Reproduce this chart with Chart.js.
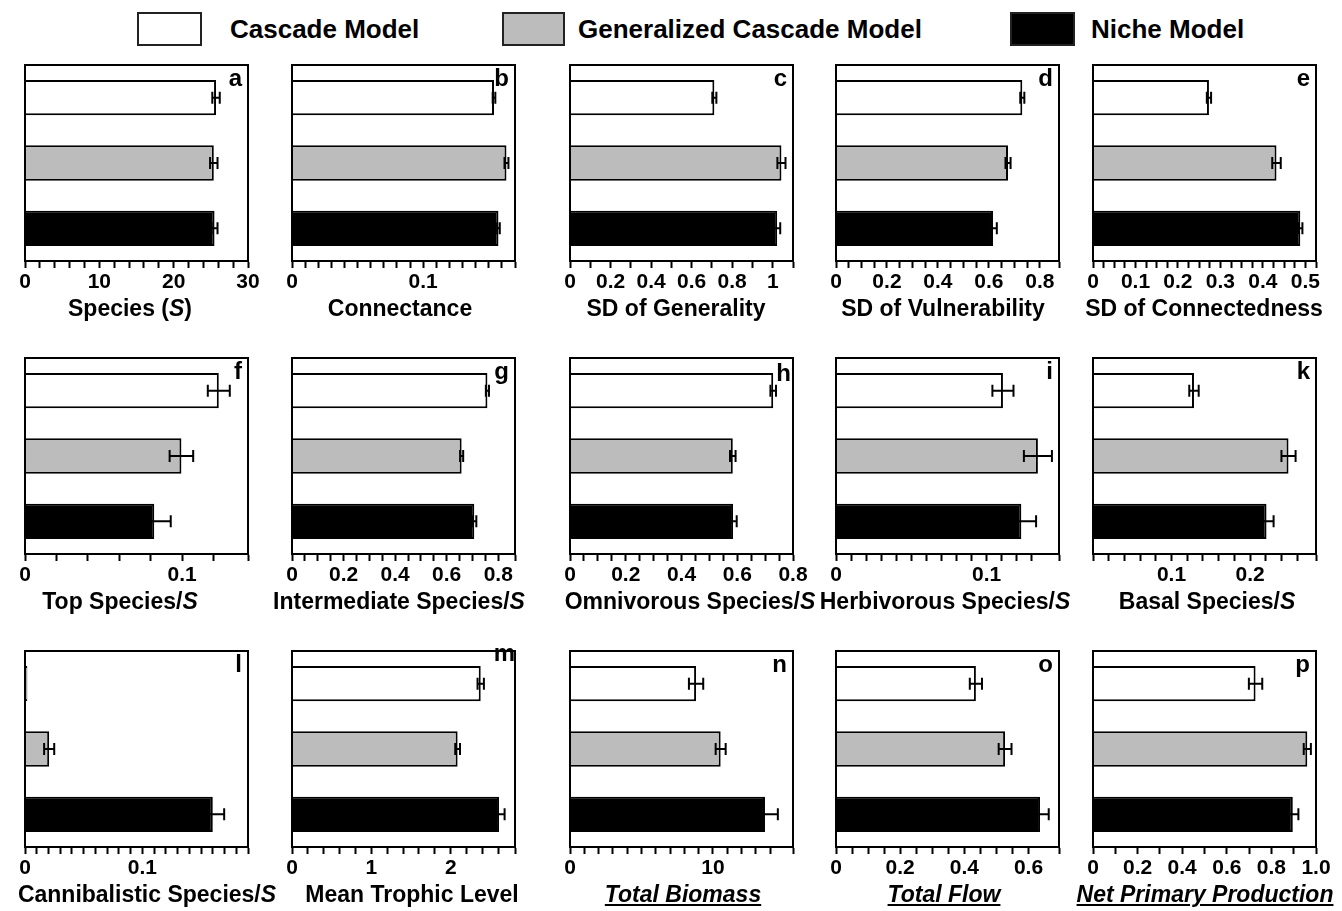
<!DOCTYPE html>
<html>
<head>
<meta charset="utf-8">
<script src="https://cdn.jsdelivr.net/npm/chart.js@4.4.1/dist/chart.umd.min.js"></script>
<style>
  body { margin: 0; background: #fff; }
  #fig { position: relative; width: 1342px; height: 911px; overflow: hidden;
         font-family: "Liberation Sans", Arial, sans-serif; font-weight: bold; color: #000; }
  #fig canvas { position: absolute; }
  .txt { position: absolute; white-space: nowrap; }
  .sw { position: absolute; box-sizing: border-box; border: 2px solid #222; top: 12px; height: 34px; }
  .leg { position: absolute; top: 12px; height: 34px; line-height: 34px; font-size: 26px; white-space: nowrap; }
  .title { font-size: 23px; line-height: 26px; transform: translateX(-50%); }
  .letter { font-size: 24px; line-height: 24px; transform: translateX(-100%); }
</style>
</head>
<body>
<div id="fig">
  <div class="sw" style="left:137px;width:65px;background:#fff"></div>
  <div class="leg" style="left:230px">Cascade Model</div>
  <div class="sw" style="left:502px;width:63px;background:#bcbcbc"></div>
  <div class="leg" style="left:578px">Generalized Cascade Model</div>
  <div class="sw" style="left:1010px;width:65px;background:#000"></div>
  <div class="leg" style="left:1091px">Niche Model</div>
</div>
<script>
// categories (one bar per model)
const models = ["Cascade Model", "Generalized Cascade Model", "Niche Model"];

const panelLetters = ["a", "b", "c", "d", "e", "f", "g", "h", "i", "k", "l", "m", "n", "o", "p"];
const axisTitles = [
  "Species (<i>S</i>)", "Connectance", "SD of Generality", "SD of Vulnerability", "SD of Connectedness",
  "Top Species/<i>S</i>", "Intermediate Species/<i>S</i>", "Omnivorous Species/<i>S</i>", "Herbivorous Species/<i>S</i>", "Basal Species/<i>S</i>",
  "Cannibalistic Species/<i>S</i>", "Mean Trophic Level", "<u><i>Total Biomass</i></u>", "<u><i>Total Flow</i></u>", "<u><i>Net Primary Production</i></u>"
];

// means and error bars, panel order a..p
const cascade        = [25.7, 0.154, 0.712, 0.731, 0.273, 0.1234, 0.758, 0.729, 0.1108, 0.1286, 0.002, 2.378, 8.82, 0.436, 0.729];
const cascadeErr     = [0.5, 0.001, 0.01, 0.008, 0.005, 0.007, 0.006, 0.01, 0.007, 0.006, 0, 0.04, 0.5, 0.019, 0.03];
const generalized    = [25.4, 0.1635, 1.043, 0.675, 0.432, 0.0996, 0.658, 0.584, 0.134, 0.249, 0.0206, 2.087, 10.54, 0.527, 0.961];
const generalizedErr = [0.5, 0.0015, 0.02, 0.01, 0.01, 0.0075, 0.006, 0.01, 0.0093, 0.009, 0.0043, 0.03, 0.35, 0.02, 0.016];
const niche          = [25.5, 0.1574, 1.022, 0.616, 0.488, 0.0823, 0.707, 0.585, 0.123, 0.221, 0.16, 2.609, 13.64, 0.636, 0.896];
const nicheErr       = [0.4, 0.001, 0.015, 0.015, 0.005, 0.0105, 0.008, 0.013, 0.0098, 0.009, 0.0097, 0.07, 0.9, 0.027, 0.025];

// x axes
const axisMax   = [30, 0.17, 1.1, 0.875, 0.525, 0.142, 0.865, 0.8, 0.148, 0.284, 0.19, 2.81, 15.6, 0.695, 1.0];
const minorStep = [2, 0.01, 0.1, 0.05, 0.025, 0.02, 0.05, 0.05, 0.01, 0.02, 0.01, 0.2, 1, 0.05, 0.1];
const tickLabels = [
  ["0", "10", "20", "30"], ["0", "0.1"], ["0", "0.2", "0.4", "0.6", "0.8", "1"], ["0", "0.2", "0.4", "0.6", "0.8"], ["0", "0.1", "0.2", "0.3", "0.4", "0.5"],
  ["0", "0.1"], ["0", "0.2", "0.4", "0.6", "0.8"], ["0", "0.2", "0.4", "0.6", "0.8"], ["0", "0.1"], ["0.1", "0.2"],
  ["0", "0.1"], ["0", "1", "2"], ["0", "10"], ["0", "0.2", "0.4", "0.6"], ["0", "0.2", "0.4", "0.6", "0.8", "1.0"]
];

// layout
const colLeft = [25, 292, 570, 836, 1093];
const rowTop = [65, 358, 651];
const boxW = 223, boxH = 196, PAD = 34;
const titleX = [130, 400, 676, 943, 1204, 120, 399, 690, 945, 1207, 147, 412, 683, 944, 1205];
const letterShift = { m: [6, -11], h: [4, 2] };

const fig = document.getElementById("fig");

const frame = {
  id: "frame",
  afterDraw(chart) {
    const { ctx, chartArea: a } = chart;
    ctx.save();
    ctx.strokeStyle = "#000";
    ctx.lineWidth = 2;
    ctx.strokeRect(a.left, a.top, a.right - a.left, a.bottom - a.top);
    ctx.restore();
  }
};

const errorBars = {
  id: "errorBars",
  afterDatasetsDraw(chart) {
    const ctx = chart.ctx, xs = chart.scales.x;
    chart.data.datasets.forEach((ds, di) => {
      chart.getDatasetMeta(di).data.forEach((bar, j) => {
        const v = ds.data[j], e = ds.errors[j];
        if (!e) return;
        const x1 = xs.getPixelForValue(v - e), x2 = xs.getPixelForValue(v + e), y = bar.y;
        ctx.save();
        ctx.strokeStyle = "#000";
        ctx.lineWidth = 2;
        ctx.beginPath();
        ctx.moveTo(x1, y); ctx.lineTo(x2, y);
        ctx.moveTo(x1, y - 6); ctx.lineTo(x1, y + 6);
        ctx.moveTo(x2, y - 6); ctx.lineTo(x2, y + 6);
        ctx.stroke();
        ctx.restore();
      });
    });
  }
};

function addText(cls, html, left, top) {
  const d = document.createElement("div");
  d.className = "txt " + cls;
  d.innerHTML = html;
  d.style.left = left + "px";
  d.style.top = top + "px";
  fig.appendChild(d);
}

for (let i = 0; i < 15; i++) {
  const row = Math.floor(i / 5), col = i % 5;
  const left = colLeft[col], top = rowTop[row];
  const canvas = document.createElement("canvas");
  canvas.width = boxW + 2 * PAD;
  canvas.height = boxH + 10 + 50;
  canvas.style.left = (left - PAD) + "px";
  canvas.style.top = (top - 10) + "px";
  fig.appendChild(canvas);

  const majors = tickLabels[i];
  const step = minorStep[i];

  new Chart(canvas, {
    type: "bar",
    data: {
      labels: models,
      datasets: [{
        data: [cascade[i], generalized[i], niche[i]],
        errors: [cascadeErr[i], generalizedErr[i], nicheErr[i]],
        backgroundColor: ["#ffffff", "#bcbcbc", "#000000"],
        borderColor: "#000",
        borderWidth: 2,
        barPercentage: 0.54,
        categoryPercentage: 1
      }]
    },
    options: {
      indexAxis: "y",
      responsive: false,
      animation: false,
      layout: { padding: { left: PAD, right: PAD, top: 10, bottom: 0 } },
      plugins: { legend: { display: false }, tooltip: { enabled: false } },
      scales: {
        y: { display: false },
        x: {
          min: 0,
          max: axisMax[i],
          afterFit: (s) => { s.height = 50; },
          grid: { drawOnChartArea: false, tickLength: 7, tickWidth: 2, tickColor: "#000" },
          border: { display: true, color: "#000", width: 2 },
          ticks: {
            stepSize: step,
            autoSkip: false,
            maxRotation: 0,
            minRotation: 0,
            padding: 2,
            color: "#000",
            font: { family: "'Liberation Sans', Arial, sans-serif", size: 21, weight: "bold" },
            callback: (v) => {
              const m = majors.find(t => Math.abs(parseFloat(t) - v) < step / 10);
              return m === undefined ? "" : m;
            }
          }
        }
      }
    },
    plugins: [errorBars, frame]
  });

  addText("title", axisTitles[i], titleX[i], top + boxH + 47 - 13);
  const sh = letterShift[panelLetters[i]] || [0, 0];
  addText("letter", panelLetters[i], left + boxW - 6 + sh[0], top + 1 + sh[1]);
}
</script>
</body>
</html>
